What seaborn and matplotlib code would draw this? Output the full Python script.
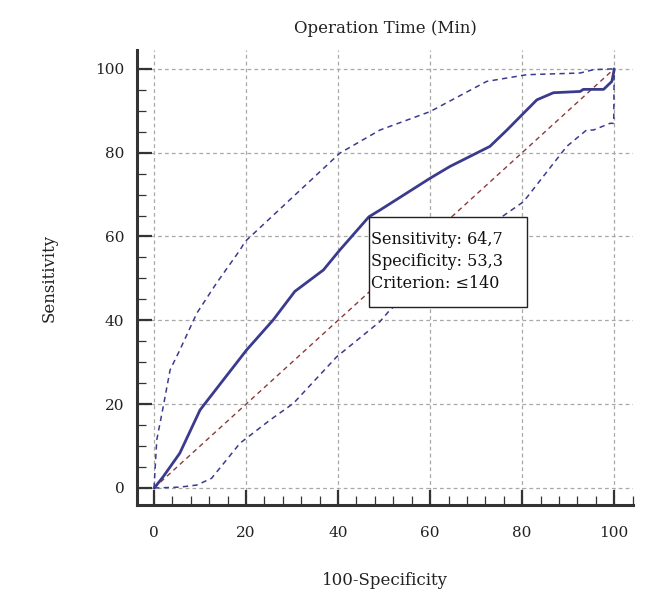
import matplotlib
matplotlib.use("Agg")
import matplotlib.pyplot as plt
import seaborn as sns
import pandas as pd
from matplotlib.ticker import MultipleLocator
from matplotlib.patches import Rectangle
from matplotlib.transforms import ScaledTranslation

# ROC curve (100-Specificity, Sensitivity)
roc_x = [0, 0.2, 2.0, 5.6, 10.0, 11.4, 20.1, 25.9, 30.6, 36.8, 40.4, 46.7,
         49.1, 60.0, 64.3, 70.1, 73.0, 76.7, 80.3, 83.2, 86.8, 92.6, 93.3,
         97.7, 99.5, 100, 100]
roc_y = [0, 0.2, 2.7, 8.3, 18.6, 20.6, 32.9, 40.1, 46.9, 52.0, 56.8, 64.7,
         66.3, 73.9, 76.7, 79.9, 81.5, 85.4, 89.4, 92.6, 94.3, 94.6, 95.1,
         95.1, 97.0, 99.8, 100]

# upper confidence bound
up_x = [0, 0.6, 2.0, 3.5, 5.6, 9.3, 13.6, 18.7, 19.8, 40.4, 49.1, 60.0,
        72.3, 81.0, 92.6, 95.5, 100]
up_y = [0, 11.5, 19.4, 28.2, 32.9, 41.7, 48.9, 56.8, 58.8, 79.9, 85.4, 89.8,
        97.0, 98.6, 99.0, 99.8, 100]

# lower confidence bound
lo_x = [0, 5.6, 9.3, 12.5, 18.7, 25.2, 30.3, 39.7, 49.1, 51.3, 75.6, 80.3,
        89.7, 94.0, 95.5, 99.1, 99.9, 100]
lo_y = [0, 0.2, 0.7, 2.3, 10.7, 16.2, 20.2, 31.3, 39.7, 42.5, 64.7, 68.3,
        81.5, 85.4, 85.4, 87.0, 87.0, 100]

diag = [0, 100]

cut_x, cut_y = 46.7, 64.7
box_lines = ["Sensitivity: 64,7", "Specificity: 53,3", "Criterion: \u2264140"]

sns.set_style("ticks")
plt.rcParams['font.family'] = ['DejaVu Serif']

fig = plt.figure(figsize=(6.66, 6.05), dpi=100)
ax = fig.add_axes([0.2057, 0.1653, 0.7448, 0.7521])

navy = "#3b3b8e"
dash = (0, (3.5, 2.8))
sns.lineplot(x=diag, y=diag, ax=ax, color="#8b3a3a", lw=1.0,
             linestyle=dash, estimator=None, sort=False)
sns.lineplot(x=up_x, y=up_y, ax=ax, color=navy, lw=1.1,
             linestyle=dash, estimator=None, sort=False)
sns.lineplot(x=lo_x, y=lo_y, ax=ax, color=navy, lw=1.1,
             linestyle=dash, estimator=None, sort=False)
sns.lineplot(x=roc_x, y=roc_y, ax=ax, color=navy, lw=2.0,
             estimator=None, sort=False)

ax.set_xlim(-3.7, 104.1)
ax.set_ylim(-4.06, 104.5)
ax.xaxis.set_major_locator(MultipleLocator(20))
ax.xaxis.set_minor_locator(MultipleLocator(4))
ax.yaxis.set_major_locator(MultipleLocator(20))
ax.yaxis.set_minor_locator(MultipleLocator(5))

ax.grid(True, which="major", color="#a8a8a8", linestyle=(0, (3, 2.5)), lw=0.9)
ax.set_axisbelow(True)
sns.despine(ax=ax)
for s in ["left", "bottom"]:
    ax.spines[s].set_linewidth(2.2)
    ax.spines[s].set_color("#333333")

ax.tick_params(which="major", direction="in", length=11, width=1.6,
               color="#333333", labelsize=11, labelcolor="#222222")
ax.tick_params(which="minor", direction="in", length=6.5, width=0.9,
               color="#333333")
ax.tick_params(axis="x", which="major", pad=15)
ax.tick_params(axis="y", which="major", pad=9)

# criterion box, top-left corner anchored at the cut-off point
anchor = ax.transData + ScaledTranslation(0, 0, fig.dpi_scale_trans)
corner = fig.dpi_scale_trans + ScaledTranslation(cut_x, cut_y, ax.transData)
ax.add_patch(Rectangle((0, -0.90), 1.58, 0.90, transform=corner,
                       fc="white", ec="#222222", lw=1.0, zorder=5,
                       clip_on=False))
ax.annotate("\n".join(box_lines), xy=(cut_x, cut_y), xytext=(1.2, -10.5),
            textcoords="offset points", ha="left", va="top", fontsize=11.5,
            linespacing=1.36, color="#111111", zorder=6)

ax.set_title("Operation Time (Min)", fontsize=12, pad=12, color="#222222")
ax.set_xlabel("100-Specificity", fontsize=12, labelpad=23, color="#222222")
ax.set_ylabel("Sensitivity", fontsize=12, labelpad=27, color="#222222")

fig.savefig("out.png", dpi=100)
